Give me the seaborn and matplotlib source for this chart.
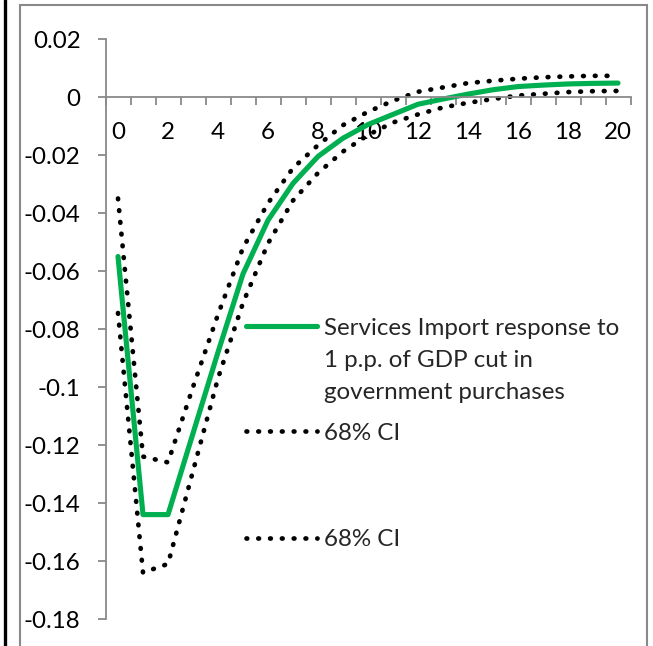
import numpy as np
import matplotlib
matplotlib.use("Agg")
import matplotlib.pyplot as plt
import seaborn as sns
from matplotlib.patches import Rectangle
from matplotlib.lines import Line2D
from matplotlib.ticker import FixedLocator

# Quarters after the shock
horizon = list(range(21))

# Impulse response of services imports and its 68% confidence band
response = [-0.055, -0.144, -0.144, -0.116, -0.088, -0.061, -0.0425, -0.0298,
            -0.0205, -0.0142, -0.0095, -0.0060, -0.0025, -0.0007, 0.0010,
            0.0025, 0.0036, 0.0041, 0.0045, 0.0047, 0.0048]
ci_upper = [-0.035, -0.124, -0.126, -0.100, -0.075, -0.052, -0.0366, -0.0245,
            -0.0166, -0.0097, -0.0051, -0.0013, 0.0018, 0.0033, 0.0048,
            0.0056, 0.0063, 0.0068, 0.0071, 0.0073, 0.0073]
ci_lower = [-0.0745, -0.164, -0.161, -0.129, -0.097, -0.071, -0.0505, -0.0357,
            -0.0262, -0.0188, -0.0131, -0.0088, -0.0060, -0.0036, -0.0020,
            -0.0007, 0.0005, 0.0011, 0.0017, 0.0020, 0.0021]

series_label = "Services Import response to\n1 p.p. of GDP cut in\ngovernment purchases"
ci_label = "68% CI"

y_ticks = [0.02, 0, -0.02, -0.04, -0.06, -0.08, -0.1, -0.12, -0.14, -0.16, -0.18]
y_tick_labels = ["0.02", "0", "-0.02", "-0.04", "-0.06", "-0.08", "-0.1",
                 "-0.12", "-0.14", "-0.16", "-0.18"]
x_ticks = list(range(0, 21, 2))
x_tick_labels = [str(v) for v in x_ticks]

sns.set_theme(style="white")
plt.rcParams["font.family"] = ["Lato", "DejaVu Sans"]

GREEN = "#00B050"
GREY = "#898989"
FS = 17.4

fig = plt.figure(figsize=(6.53, 6.46), dpi=100)
ax = fig.add_axes([105.5 / 653, 27 / 646, 525 / 653, 580 / 646])

dotted = (0, (0.15, 2.35))
sns.lineplot(x=horizon, y=response, color=GREEN, lw=3.7, ax=ax,
             solid_capstyle="round", label=series_label)
sns.lineplot(x=horizon, y=ci_upper, color="black", lw=3.4, linestyle=dotted,
             ax=ax, label=ci_label)
sns.lineplot(x=horizon, y=ci_lower, color="black", lw=3.4, linestyle=dotted,
             ax=ax, label=ci_label)
lines = ax.get_lines()
for ln in lines[1:3]:
    ln.set_dash_capstyle("round")

ax.set_xlim(-0.5, 20.5)
ax.set_ylim(-0.18, 0.02)
ax.set_xlabel("")
ax.set_ylabel("")

# Axes: y axis on the left, x axis crossing at zero
for side in ("top", "right"):
    ax.spines[side].set_visible(False)
ax.spines["bottom"].set_position(("data", 0))
for side in ("left", "bottom"):
    ax.spines[side].set_color(GREY)
    ax.spines[side].set_linewidth(1.3)

ax.set_xticks(x_ticks)
ax.set_xticklabels(x_tick_labels)
ax.xaxis.set_minor_locator(FixedLocator(np.arange(-0.5, 21.0, 1.0)))
ax.tick_params(axis="x", which="major", bottom=True, length=0, pad=18,
               labelsize=FS, labelcolor="black")
ax.tick_params(axis="x", which="minor", bottom=True, length=6, width=1.3,
               color=GREY, direction="out")

ax.set_yticks(y_ticks)
ax.set_yticklabels(y_tick_labels)
ax.tick_params(axis="y", which="major", left=True, length=6, width=1.3,
               color=GREY, direction="out", pad=12, labelsize=FS,
               labelcolor="black")

common = dict(loc="upper left", frameon=False, borderpad=0, borderaxespad=0,
              handlelength=2.95, handletextpad=0.28, fontsize=FS)
leg1 = ax.legend([lines[0], lines[1]], [series_label, ci_label],
                 bbox_to_anchor=(0.2676, 0.519), labelspacing=0.8, **common)
for t in leg1.get_texts():
    t.set_linespacing(1.66)
first_row = leg1._legend_handle_box.get_children()[0].get_children()[0]
first_row.align = "top"
ax.add_artist(leg1)
leg2 = ax.legend([lines[2]], [ci_label], bbox_to_anchor=(0.2676, 0.155), **common)

# Chart frame
fig.add_artist(Rectangle((20 / 653, -0.02), (647 - 20) / 653, 1 - 5 / 646 + 0.02,
                         transform=fig.transFigure, fill=False,
                         edgecolor=GREY, lw=1.5))
fig.add_artist(Line2D([4.5 / 653, 4.5 / 653], [0, 1], transform=fig.transFigure,
                      color="black", lw=2.4))

fig.savefig("out.png", dpi=100)
